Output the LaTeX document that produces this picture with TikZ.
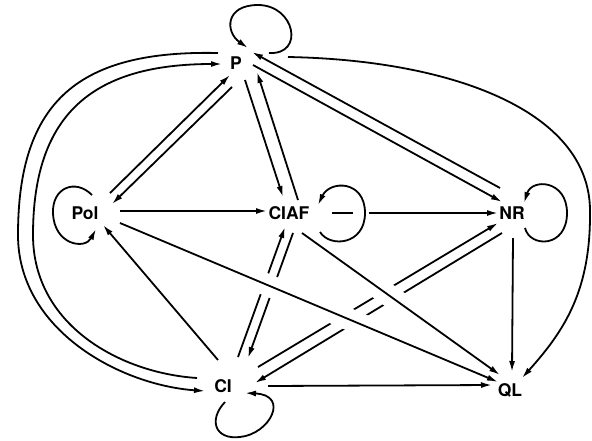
\documentclass[tikz,border=0pt]{standalone}
\usepackage{fontspec}
\setmainfont{TeX Gyre Heros}
\usetikzlibrary{arrows.meta,calc}
\begin{document}
\begin{tikzpicture}[x=1pt,y=-1pt,
  lbl/.style={inner sep=0pt, font=\bfseries\fontsize{17.5}{17.5}\selectfont, text height=12.6pt, text depth=0pt},
  edge/.style={line width=1.8pt, -{Latex[length=11pt,width=6pt]}},
  halo/.style={white, line width=22pt}]
\useasboundingbox (0,0) rectangle (592,440);
% nodes
\node[lbl] (P) at (236,63) {P};
\node[lbl] (Pol) at (85,213) {Pol};
\node[lbl] (CIAF) at (289,213) {CIAF};
\node[lbl] (NR) at (512,213) {NR};
\node[lbl] (CI) at (223,386) {CI};
\node[lbl] (QL) at (510,390) {QL};
% P -- Pol
\draw[edge] ([shift={(25,-20)}]Pol.center) -- ([shift={(-6,12)}]P.center);
\draw[edge] ([shift={(-4,24)}]P.center) -- ([shift={(27,-9)}]Pol.center);
% P -- CIAF
\draw[edge] ([shift={(9,17)}]P.center) -- ([shift={(-6,-16)}]CIAF.center);
\draw[edge] ([shift={(9,-13)}]CIAF.center) -- ([shift={(21,9)}]P.center);
% P -- NR
\draw[edge] ([shift={(-12,-25)}]NR.center) -- ([shift={(16,-11)}]P.center);
\draw[edge] ([shift={(17,2)}]P.center) -- ([shift={(-10,-11)}]NR.center);
% Pol -> CIAF, CIAF -> NR
\draw[edge] ([shift={(35,-2)}]Pol.center) -- ([shift={(-22,-2)}]CIAF.center);
\draw[edge] ([shift={(43,0)}]CIAF.center) -- ([shift={(-14,0)}]NR.center);
\fill[white] (353,207) rectangle (369,219);
% CI -- CIAF
\draw[edge] ([shift={(15,-29)}]CI.center) -- ([shift={(-4,14)}]CIAF.center);
\draw[edge] ([shift={(4,20)}]CIAF.center) -- ([shift={(25,-28)}]CI.center);
% CI -- NR
\draw[edge] ([shift={(35,-19)}]CI.center) -- ([shift={(-14,10)}]NR.center);
\draw[edge] ([shift={(-10,20)}]NR.center) -- ([shift={(32,-3)}]CI.center);
% over lines with gaps
\coordinate (a13) at ([shift={(13,20)}]CIAF.center);
\coordinate (b13) at ([shift={(-10,-15)}]QL.center);
\coordinate (a14) at ([shift={(35,10)}]Pol.center);
\coordinate (b14) at ([shift={(-12,-8)}]QL.center);
\draw[halo] ($(a13)!0.33!(b13)$) -- ($(a13)!0.56!(b13)$);
\draw[halo] ($(a14)!0.33!(b14)$) -- ($(a14)!0.67!(b14)$);
\draw[edge] (a13) -- (b13);
\draw[edge] (a14) -- (b14);
% others
\draw[edge] ([shift={(-5,-26)}]CI.center) -- ([shift={(18,12)}]Pol.center);
\draw[edge] ([shift={(45,0)}]CI.center) -- ([shift={(-18,-5)}]QL.center);
\draw[edge] ([shift={(1,25)}]NR.center) -- ([shift={(2,-18)}]QL.center);
% P -> QL big curve
\draw[edge] ([shift={(52,-6)}]P.center) .. controls (450,60) and (589,110) .. (590,210) .. controls (591,290) and (565,330) .. ([shift={(12,-12)}]QL.center);
% outer double arcs
\draw[edge] ([shift={(-18,-10)}]P.center) .. controls (80,50) and (18,100) .. (18,235) .. controls (18,330) and (120,385) .. ([shift={(-18,5)}]CI.center);
\draw[edge] ([shift={(-26,-8)}]CI.center) .. controls (120,373) and (33,325) .. (33,235) .. controls (33,112) and (95,64) .. ([shift={(-14,1)}]P.center);
% self loops
\draw[edge] ([shift={(33,-10)}]P.center) .. controls (305,55) and (295,5) .. (258,5) .. controls (225,5) and (225,32) .. ([shift={(12,-15)}]P.center);
\draw[edge] ([shift={(7,-18)}]Pol.center) .. controls (75,178) and (52,188) .. (53,213) .. controls (54,245) and (85,250) .. ([shift={(11,16)}]Pol.center);
\draw[edge] ([shift={(31,19)}]CIAF.center) .. controls (330,248) and (365,245) .. (365,213) .. controls (365,180) and (330,180) .. ([shift={(29,-8)}]CIAF.center);
\draw[edge] ([shift={(13,15)}]NR.center) .. controls (530,248) and (567,248) .. (567,213) .. controls (567,180) and (532,178) .. ([shift={(12,-10)}]NR.center);
\draw[edge] ([shift={(2,16)}]CI.center) .. controls (208,420) and (215,440) .. (240,437) .. controls (270,434) and (290,395) .. ([shift={(22,7)}]CI.center);
\end{tikzpicture}
\end{document}
